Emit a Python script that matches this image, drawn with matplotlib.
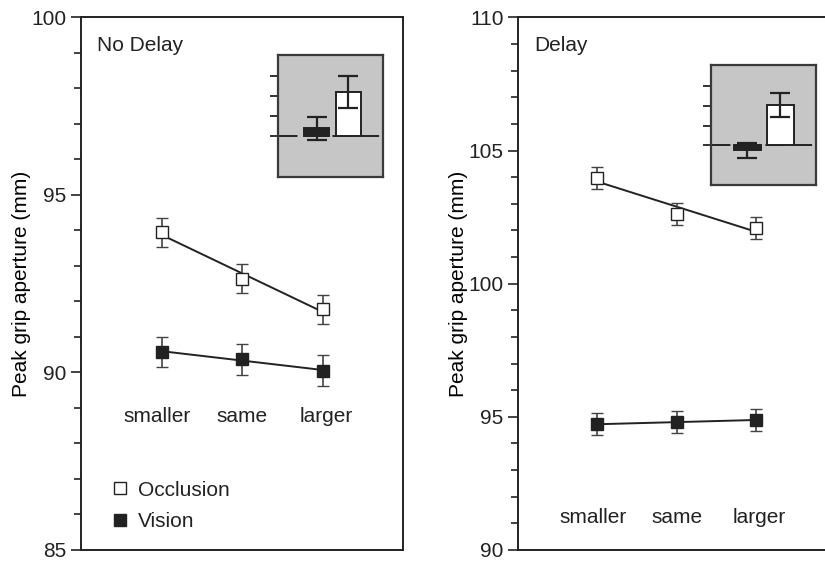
import numpy as np
import matplotlib
matplotlib.use("Agg")
import matplotlib.pyplot as plt
from matplotlib.lines import Line2D

plt.rcParams['font.family'] = ['Liberation Sans', 'DejaVu Sans']
plt.rcParams['font.size'] = 15
plt.rcParams['text.color'] = '#222222'
plt.rcParams['axes.edgecolor'] = '#222222'
plt.rcParams['xtick.color'] = '#222222'
plt.rcParams['ytick.color'] = '#222222'

# data
sizes = ['smaller', 'same', 'larger']

nodelay_occl = [93.95, 92.64, 91.78]
nodelay_occl_err = [0.41, 0.41, 0.41]
nodelay_vis = [90.58, 90.37, 90.05]
nodelay_vis_err = [0.42, 0.43, 0.43]

delay_occl = [103.97, 102.62, 102.09]
delay_occl_err = [0.41, 0.41, 0.41]
delay_vis = [94.72, 94.80, 94.88]
delay_vis_err = [0.41, 0.40, 0.41]

# inset bars (vision, occlusion)
inset_nodelay = [0.40, 2.22]
inset_nodelay_err = [0.57, 0.80]
inset_delay = [-0.24, 2.03]
inset_delay_err = [0.38, 0.61]

DARK = '#222222'
FS = 15
x = np.arange(len(sizes))

fig = plt.figure(figsize=(8.25, 5.62), dpi=100)


def panel(rect, ylim, yticks, occl, occl_err, vis, vis_err, title, label_y):
    ax = fig.add_axes(rect)
    for vals, errs, face in [(occl, occl_err, 'white'), (vis, vis_err, DARK)]:
        fit = np.polyfit(x, vals, 1)
        ax.plot(x, np.polyval(fit, x), color=DARK, lw=1.4, zorder=2)
        ax.errorbar(x, vals, yerr=errs, fmt='s', ms=9, mfc=face, mec=DARK,
                    mew=1.0, ecolor='#444444', elinewidth=1.2, capsize=4,
                    capthick=1.2, zorder=3)
    for xi, name in zip(x, sizes):
        ax.text(xi + 0.05 * (xi - 1), label_y, name, ha='center', va='center', fontsize=FS)
    ax.set_xlim(-1, 3)
    ax.set_ylim(*ylim)
    ax.set_xticks([])
    ax.set_yticks(yticks)
    ax.set_yticks(np.arange(ylim[0], ylim[1] + 1, 1), minor=True)
    ax.tick_params(axis='y', which='major', direction='out', length=7, width=1.2, labelsize=FS)
    ax.tick_params(axis='y', which='minor', direction='out', length=5, width=1.2)
    for s in ax.spines.values():
        s.set_linewidth(1.4)
    ax.set_ylabel('Peak grip aperture (mm)', fontsize=FS, labelpad=0)
    ax.text(0.05, 0.948, title, transform=ax.transAxes, ha='left', va='center', fontsize=FS)
    return ax


def inset(rect, vals, errs, xlim):
    ia = fig.add_axes(rect)
    ia.set_facecolor('#c6c6c6')
    ia.axhline(0, color=DARK, lw=1.4, dashes=(10, 4), zorder=1)
    ia.bar([0, 1], vals, width=0.8, color=[DARK, 'white'], edgecolor=DARK,
           linewidth=1.4, zorder=2)
    ia.errorbar([0, 1], vals, yerr=errs, fmt='none', ecolor=DARK,
                elinewidth=1.6, capsize=7, capthick=1.6, zorder=3)
    ia.set_xlim(*xlim)
    ia.set_ylim(-2.0, 4.05)
    ia.set_xticks([])
    ia.set_yticks([0, 1, 2, 3])
    ia.set_yticklabels([])
    ia.tick_params(axis='y', direction='out', length=6, width=1.3, color=DARK)
    for s in ia.spines.values():
        s.set_linewidth(1.6)
        s.set_color('#3a3a3a')
    return ia


ax1 = panel([0.0982, 0.0215, 0.3906, 0.9475], (85, 100), [85, 90, 95, 100],
            nodelay_occl, nodelay_occl_err, nodelay_vis, nodelay_vis_err,
            'No Delay', 88.75)
ax2 = panel([0.6279, 0.0215, 0.3842, 0.9475], (90, 110), [90, 95, 100, 105, 110],
            delay_occl, delay_occl_err, delay_vis, delay_vis_err,
            'Delay', 91.2)
ax2.spines['right'].set_visible(False)

handles = [Line2D([], [], ls='none', marker='s', ms=8, mfc='white', mec=DARK, mew=1.0),
           Line2D([], [], ls='none', marker='s', ms=8, mfc=DARK, mec=DARK, mew=1.0)]
ax1.legend(handles, ['Occlusion', 'Vision'], loc='lower left',
           bbox_to_anchor=(0.03, 0.0), frameon=False, handlelength=1.0,
           handletextpad=0.35, labelspacing=0.6, fontsize=FS)

inset([0.3373, 0.6856, 0.1273, 0.2165], inset_nodelay, inset_nodelay_err, (-1.215, 2.11))
inset([0.8615, 0.6708, 0.1276, 0.2135], inset_delay, inset_delay_err, (-1.11, 2.08))

fig.savefig('out.png', dpi=100)
